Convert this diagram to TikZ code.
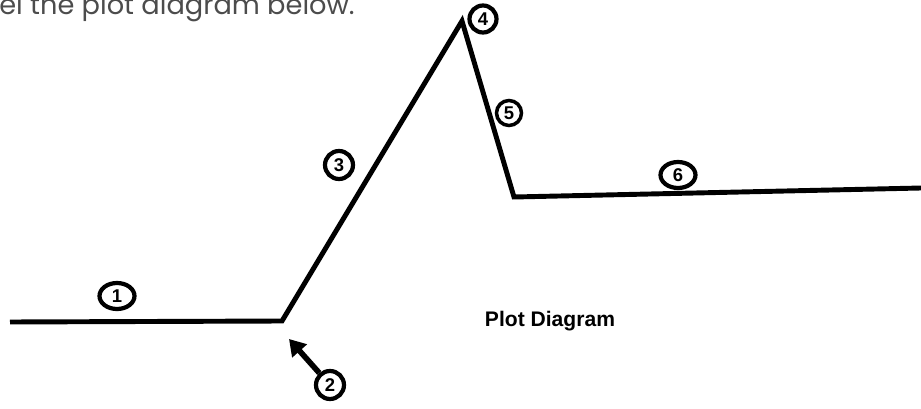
\documentclass[tikz,border=0pt]{standalone}
\usepackage{fontspec}
\setmainfont{Liberation Sans}
\newfontfamily\headfont{Poppins}
\usetikzlibrary{arrows.meta, positioning, shapes.geometric}

\begin{document}
\begin{tikzpicture}[
    x=0.02cm, y=-0.02cm,
    plot/.style={line width=2.8pt, line join=miter},
    num/.style={circle, draw, line width=2.4pt, minimum size=0.56cm, inner sep=0pt, font=\bfseries\fontsize{10.5}{12}\selectfont},
    wide/.style={ellipse, minimum width=0.7cm, minimum height=0.52cm},
    pointer/.style={line width=3.2pt, -{Triangle[length=0.32cm, width=0.38cm]}}
]
\useasboundingbox (0,0) rectangle (921,409);

\node[anchor=base west, inner sep=0pt, text=black!70, font=\headfont\fontsize{15.5}{18}\selectfont] (head) at (-1,14) {el the plot diagram below.};

% plot line
\coordinate (start) at (10,322);
\coordinate (rise) at (282,321);
\coordinate (peak) at (462,21);
\coordinate (fall) at (514,197);
\coordinate (end) at (921,188);
\draw[plot] (start) -- (rise) -- (peak) -- (fall) -- (end);

\node[num, wide] (n1) at (117,296) {1};
\node[num] (n2) at (330,385) {2};
\node[num] (n3) at (339,165) {3};
\node[num, minimum size=0.54cm] (n4) at (483,19) {4};
\node[num, minimum size=0.5cm, line width=2pt] (n5) at (509,113) {5};
\node[num, wide] (n6) at (678,175) {6};

\coordinate (tip) at (289,339);
\draw[pointer] (n2) -- (tip);

\node[font=\bfseries\fontsize{12}{14}\selectfont] (title) at (550,321) {Plot Diagram};
\end{tikzpicture}
\end{document}
